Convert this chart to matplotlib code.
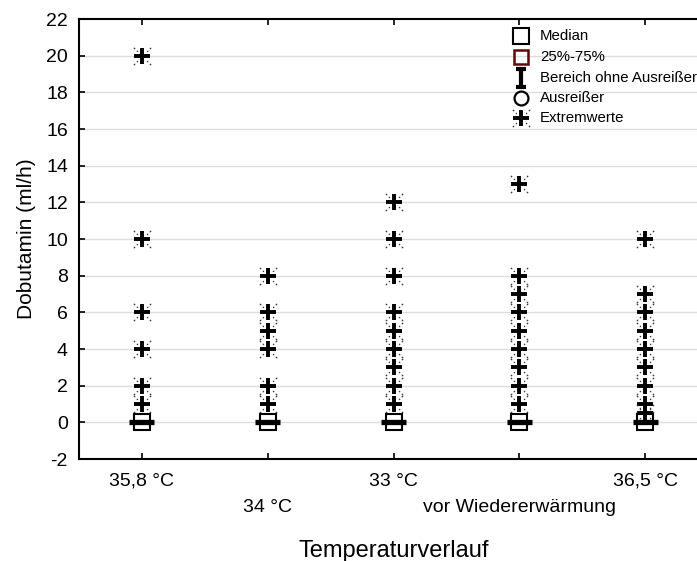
import numpy as np
import matplotlib.pyplot as plt
from matplotlib.path import Path

plt.rcParams['font.family'] = ['Liberation Sans', 'DejaVu Sans']

# Gruppen entlang des Temperaturverlaufs
groups = ['35,8 °C', '34 °C', '33 °C', 'vor Wiedererwärmung', '36,5 °C']
medians = [0, 0, 0, 0, 0]
# Extremwerte je Gruppe (ml/h)
extremes = [
    [20, 10, 6, 4, 2, 1],
    [8, 6, 5, 4, 2, 1],
    [12, 10, 8, 6, 5, 4, 3, 2, 1],
    [13, 8, 7, 6, 5, 4, 3, 2, 1],
    [10, 7, 6, 5, 4, 3, 2, 1, 0.5],
]
yticks = list(range(-2, 23, 2))


def dotted_x():
    # kleine gepunktete Diagonalen um das Kreuz
    verts, codes = [], []
    for sx, sy in [(1, 1), (1, -1), (-1, 1), (-1, -1)]:
        for a, b in [(0.5, 0.62), (0.8, 0.95)]:
            verts += [(sx * a, sy * a), (sx * b, sy * b)]
            codes += [Path.MOVETO, Path.LINETO]
    return Path(verts, codes)


def ibeam():
    verts = [(-0.6, 1), (0.6, 1), (0, 1), (0, -1), (-0.6, -1), (0.6, -1)]
    codes = [Path.MOVETO, Path.LINETO, Path.MOVETO, Path.LINETO,
             Path.MOVETO, Path.LINETO]
    return Path(verts, codes)


XMARK = dotted_x()


def star(ax, x, y, **kw):
    ax.plot(x, y, ls='none', marker='+', ms=11.5, mew=2.8, color='black', **kw)
    ax.plot(x, y, ls='none', marker=XMARK, ms=12.5, mew=0.8, color='#333333', **kw)


fig = plt.figure(figsize=(6.97, 5.61), dpi=100)
ax = fig.add_axes([79 / 697, 1 - 459 / 561, 629 / 697, 440 / 561])

pos = np.arange(1, len(groups) + 1)
for p, med, ext in zip(pos, medians, extremes):
    star(ax, [p] * len(ext), ext, zorder=3)
    ax.hlines(med, p - 0.1, p + 0.1, color='black', lw=3.8, zorder=3)
    ax.plot(p, med, ls='none', marker='s', ms=11, mfc='none', mec='black',
            mew=1.5, zorder=4)

ax.set_xlim(0.5, 5.5)
ax.set_ylim(-2, 22)
ax.set_yticks(yticks)
ax.set_yticklabels([str(t) for t in yticks])
ax.set_xticks(pos)
ax.set_xticklabels([g if i % 2 == 0 else '\n' + g for i, g in enumerate(groups)])
ax.tick_params(axis='both', direction='in', length=4, width=1.2, labelsize=14,
               colors='black', top=True)
ax.tick_params(axis='x', pad=10)
ax.tick_params(axis='y', pad=8)
for tk in ax.xaxis.get_major_ticks():
    tk.label1.set_linespacing(1.7)
for y in yticks[1:-1]:
    ax.axhline(y, color='#dcdcdc', lw=1, zorder=0)
for s in ax.spines.values():
    s.set_linewidth(1.5)

ax.set_ylabel('Dobutamin (ml/h)', fontsize=15, labelpad=7)
ax.set_xlabel('Temperaturverlauf', fontsize=17, labelpad=17)

# Legende
T = fig.transFigure
lx, tx = 521 / 697, 540 / 697
rows = [36, 57, 78, 98, 118]
labels = ['Median', '25%-75%', 'Bereich ohne Ausreißer', 'Ausreißer', 'Extremwerte']
ys = [1 - r / 561 for r in rows]
fig.lines.append(plt.Line2D([lx], [ys[0]], transform=T, ls='none', marker='s',
                            ms=11.5, mfc='none', mec='black', mew=1.5))
fig.lines.append(plt.Line2D([lx], [ys[1]], transform=T, ls='none', marker='s',
                            ms=10, mfc='none', mec='#5a0a0a', mew=1.8))
fig.lines.append(plt.Line2D([lx], [ys[2]], transform=T, ls='none', marker=ibeam(),
                            ms=13, mec='black', mew=3))
fig.lines.append(plt.Line2D([lx], [ys[3]], transform=T, ls='none', marker='o',
                            ms=10, mfc='none', mec='black', mew=1.6))
fig.lines.append(plt.Line2D([lx], [ys[4]], transform=T, ls='none', marker='+',
                            ms=11.5, mew=2.8, color='black'))
fig.lines.append(plt.Line2D([lx], [ys[4]], transform=T, ls='none', marker=XMARK,
                            ms=12.5, mew=0.8, color='#333333'))
for y, lab in zip(ys, labels):
    fig.text(tx, y, lab, fontsize=10.8, va='center', ha='left')

fig.savefig('out.png', dpi=100)
